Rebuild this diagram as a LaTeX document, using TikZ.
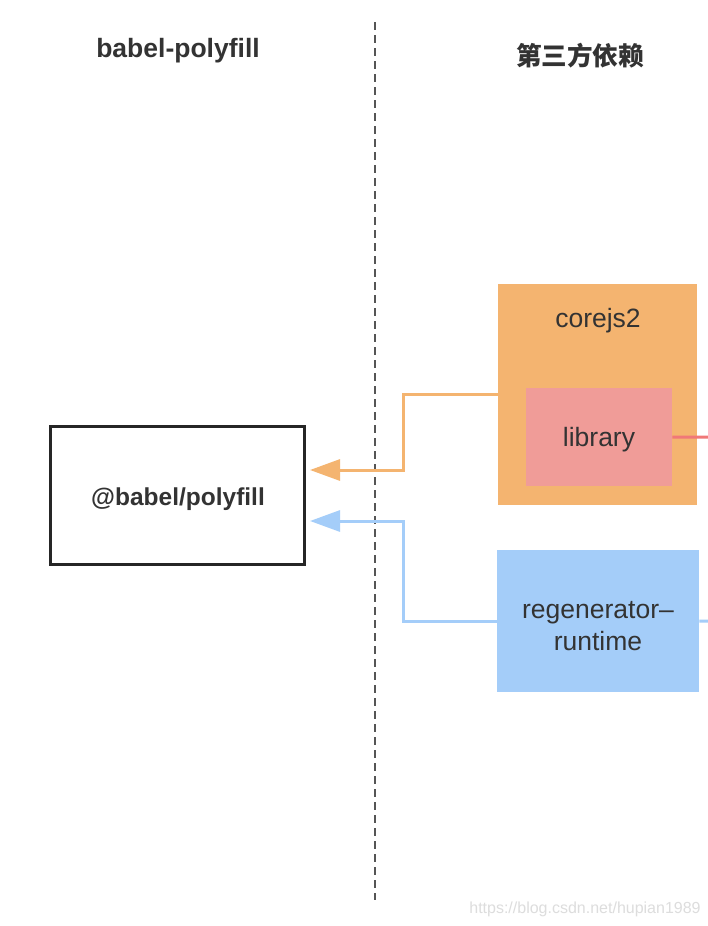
\documentclass[tikz,border=0pt]{standalone}
\usepackage{fontspec}
\setmainfont{Liberation Sans}
\newfontfamily\cjkfont{Noto Sans CJK SC}
\usetikzlibrary{arrows.meta}
\definecolor{txt}{HTML}{333333}
\definecolor{corefill}{HTML}{F4B470}
\definecolor{libfill}{HTML}{F09C98}
\definecolor{regfill}{HTML}{A4CDF9}
\definecolor{redline}{HTML}{F07878}
\definecolor{dashcol}{HTML}{555555}
\definecolor{wmark}{HTML}{DDDDDD}
\tikzset{
  lbl/.style={text=txt, font=\fontsize{26.5}{32}\selectfont, inner sep=0pt},
  ttl/.style={text=txt, font=\bfseries\fontsize{26.5}{32}\selectfont, inner sep=0pt},
  fillbox/.style={draw=none, inner sep=0pt, anchor=north west},
  conn/.style={line width=3pt, rounded corners=0pt},
  tip/.style={-{Triangle[length=30pt,width=21pt]}},
}
\begin{document}
\begin{tikzpicture}[x=1pt,y=-1pt]
\useasboundingbox[fill=white] (0,0) rectangle (708,926);
% divider
\coordinate (dtop) at (375,22);
\coordinate (dbot) at (375,900);
\draw[dashcol, line width=1.6pt, dash pattern=on 8pt off 5pt] (dtop) -- (dbot);
% titles
\node[ttl] (t1) at (178,51) {babel-polyfill};
\node[ttl, font=\cjkfont\bfseries\fontsize{25.6}{30}\selectfont] (t2) at (580,56) {第三方依赖};
% main box
\node[draw=black!85, line width=3pt, minimum width=254pt, minimum height=138pt] (poly) at (177.5,495.5) {};
\node[lbl, font=\bfseries\fontsize{24.5}{30}\selectfont] (polyt) at (178,499) {@babel/polyfill};
% corejs2
\node[fillbox, fill=corefill, minimum width=199pt, minimum height=221pt] (core) at (498,284) {};
\node[lbl] (coret) at (598,321) {corejs2};
\node[fillbox, fill=libfill, minimum width=146pt, minimum height=98pt] (lib) at (526,388) {};
\node[lbl] (libt) at (599,440) {library};
% regenerator
\node[fillbox, fill=regfill, minimum width=202pt, minimum height=142pt] (reg) at (497,550) {};
\node[lbl, align=center] (regt) at (598,626) {regenerator–\\runtime};
% connectors
\coordinate (oturn) at (403,470);
\coordinate (bturn) at (403,521);
\coordinate (otip) at (310,470);
\coordinate (btip) at (310,521);
\draw[conn, corefill, tip] (core.west) -| (oturn) -- (otip);
\draw[conn, regfill, tip] (reg.west) -| (bturn) -- (btip);
\coordinate (redend) at (708,437);
\coordinate (blueend) at (708,621);
\draw[line width=3pt, redline] (lib.east) -- (redend);
\draw[line width=3pt, regfill] (reg.east) -- (blueend);
% watermark
\node[text=wmark, font=\fontsize{16}{19}\selectfont, inner sep=0pt] (wm) at (585,909) {https://blog.csdn.net/hupian1989};
\end{tikzpicture}
\end{document}
